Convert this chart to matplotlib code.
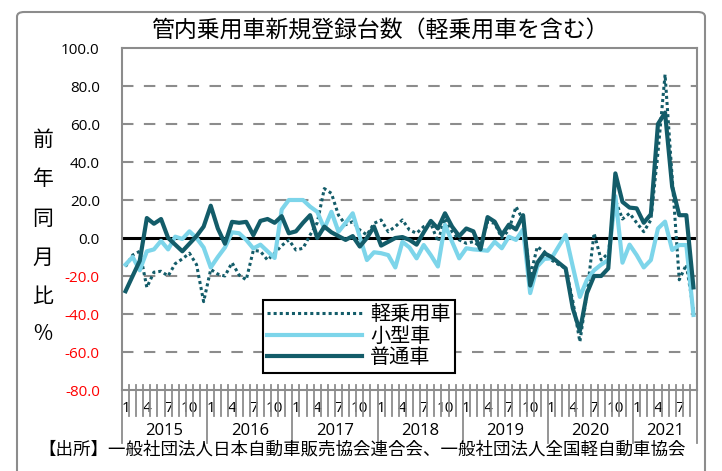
import matplotlib
matplotlib.use('Agg')
import matplotlib.pyplot as plt
from matplotlib.lines import Line2D
from matplotlib.patches import FancyBboxPatch
import numpy as np

plt.rcParams['font.family'] = ['Noto Sans CJK JP', 'DejaVu Sans']
NUMFONT = ['Open Sans', 'DejaVu Sans']

# ---- data ----
years = ['2015', '2016', '2017', '2018', '2019', '2020', '2021']
months_per_year = [12, 12, 12, 12, 12, 12, 9]
month_labels = {1: '1', 4: '4', 7: '7', 10: '10'}

kei = [  # 軽乗用車
    -15, -9, -7, -26, -18, -17.5, -20, -13.5, -11, -8, -14, -33.5,
    -16.5, -19, -20, -13, -19.5, -22, -6.5, -7, -11.6, -8, -4, -1,
    -6.3, -5.4, 1.6, 8, 26, 23.5, 12, 7, 8.6, 4.2, 1.6, 7.7,
    9.5, 3.3, 6, 9.5, 4.2, 2.5, 6, 7.7, -1.9, 10.4, 3.3, -1,
    -2.8, -1.9, -4.6, 8.6, 7.7, 0, 4.2, 16.5, 9.5, -20.4, -4.6, -7.2,
    -11.6, -14, -16, -33, -54.6, -29, 2.5, -11.6, -8, 20, 10, 13,
    8, 3.3, 9.5, 45, 86, 32, -22, -14, -38,
]
kogata = [  # 小型車
    -14, -10, -17, -7, -6, -1.5, -6, 0.7, -0.5, 3.5, 0, -5,
    -15.5, -10, -5, 3, 2.5, -1, -5.5, -3.5, -7, -10.5, 15, 20,
    20, 20, 16.5, 13.8, 5, 13.8, 3.3, 8, 13, 0.5, -11.6, -7.5,
    -8, -9, -15.5, -2, -5, -10.7, -3.7, -9, -15, 7, -2, -10.7,
    -5.4, -6, -6.3, -6.7, -2, -5.4, 0.7, -1, 4.5, -29, -15, -11,
    -10.7, -4.5, 1.6, -15, -31, -22, -17, -14, -11.6, 22, -13, -3.5,
    -9, -15.5, -11.6, 5, 8.6, -6.3, -3.7, -3.7, -40.5,
]
futsu = [  # 普通車
    -28, -20, -12, 10.5, 7.5, 10, 0, -3.5, -7, -3, 1, 6,
    17, 5, -3, 8.5, 8, 8.5, 1.5, 9, 10, 8, 11.5, 2.5,
    3.5, 8, 12, 0, 6, 3, 1, -1, 1, -4.5, 0, 6,
    -4, -2, 0, 0.5, -1, -3.5, 3, 9, 5, 13, 6, 1,
    5, 3.5, -6, 11, 8.6, 1.6, 7, 4.5, 12, -25, -13, -8,
    -10, -13, -16, -37, -49, -29, -20, -20, -16, 34, 19, 16,
    15.6, 8, 12.5, 60, 66, 27, 12, 12, -26,
]
yticks = [100, 80, 60, 40, 20, 0, -20, -40, -60, -80]

# ---- styles ----
DARK = '#135C69'
LIGHT = '#7DD5EA'
GRID = '#8C8C8C'

W, H = 722, 471
fig = plt.figure(figsize=(W / 100, H / 100), dpi=100)


def fx(px):
    return px / W


def fy(py):
    return 1 - py / H


# outer frame
frame = FancyBboxPatch((fx(17), fy(490)), fx(705) - fx(17), fy(12) - fy(490),
                       boxstyle='round,pad=0,rounding_size=0.01',
                       transform=fig.transFigure, fill=False,
                       edgecolor='#8C8C8C', lw=1.5, zorder=0)
fig.patches.append(frame)

ax = fig.add_axes([fx(122), fy(390), fx(697) - fx(122), fy(48) - fy(390)])
n = len(futsu)
x = np.arange(n)
ax.set_xlim(-0.5, n - 0.5)
ax.set_ylim(-80, 100)

for v in yticks:
    if v in (0, 100, -80):
        continue
    ax.axhline(v, color=GRID, lw=1.5, ls=(0, (5.5, 5)), zorder=1)
ax.axhline(0, color='black', lw=2.2, zorder=2)

ax.plot(x, kei, color=DARK, lw=2.2, ls=(0, (1, 1)), zorder=3, label='軽乗用車')
ax.plot(x, kogata, color=LIGHT, lw=3, zorder=4, label='小型車')
ax.plot(x, futsu, color=DARK, lw=3, zorder=5, label='普通車')

for s in ax.spines.values():
    s.set_color(GRID)
    s.set_linewidth(1.5)

ax.set_xticks([])
ax.set_yticks(yticks)
ax.set_yticklabels([f'{v:.1f}' for v in yticks], fontsize=11, family=NUMFONT)
for lab, v in zip(ax.get_yticklabels(), yticks):
    lab.set_color('red' if v < 0 else 'black')
ax.tick_params(axis='y', length=0, pad=16)

# multi-level category axis
tr = ax.get_xaxis_transform()
axh = 342.0
year_starts = np.cumsum([0] + months_per_year)
for k in range(n + 1):
    xb = k - 0.5
    is_year = k in year_starts
    y0 = 5 / axh
    y1 = -(53 if is_year else 26) / axh
    ax.add_line(Line2D([xb, xb], [y0, y1], transform=tr, color=GRID,
                       lw=1.3, clip_on=False, zorder=6))
idx = 0
for yr, cnt in zip(years, months_per_year):
    for m in range(1, cnt + 1):
        if m in month_labels:
            ax.text(idx + m - 1, -18 / axh, month_labels[m], transform=tr,
                    ha='center', va='center', fontsize=11, family=NUMFONT)
    ax.text(idx + cnt / 2 - 0.5, -41 / axh, yr, transform=tr,
            ha='center', va='center', fontsize=12, family=NUMFONT)
    idx += cnt

# title
fig.text(fx(380), fy(31), '管内乗用車新規登録台数（軽乗用車を含む）',
         ha='center', va='center', fontsize=16.5)

# vertical y label
for ch, py in zip(['前', '年', '同', '月', '比', '%'],
                  [140, 179, 219, 258, 297, 334]):
    fig.text(fx(43), fy(py), ch, ha='center', va='center', fontsize=15)

# source
fig.text(fx(38), fy(450), '【出所】一般社団法人日本自動車販売協会連合会、一般社団法人全国軽自動車協会',
         ha='left', va='center', fontsize=12.6)

leg = ax.legend(loc='upper left', bbox_to_anchor=(fx(263), fy(300)),
                bbox_transform=fig.transFigure, fontsize=14.5, frameon=True,
                fancybox=False, framealpha=1, edgecolor='black',
                handlelength=4.7, labelspacing=0.02, borderpad=0.22,
                handletextpad=0.4, borderaxespad=0)
leg.get_frame().set_linewidth(1.5)
leg.set_zorder(10)

fig.savefig('out.png', dpi=100)
